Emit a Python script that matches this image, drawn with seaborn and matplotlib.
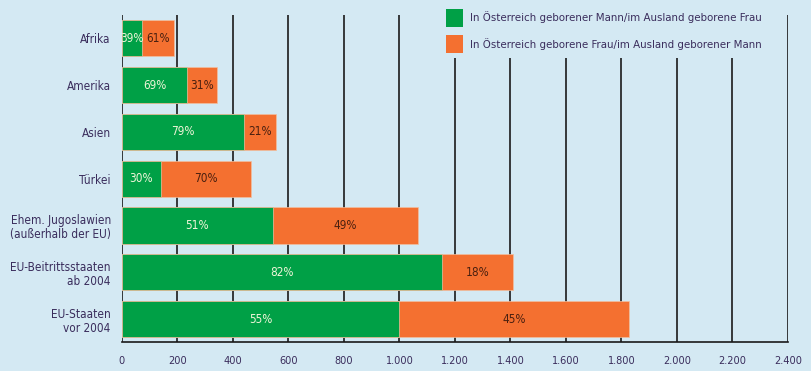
import seaborn as sns
import numpy as np
import pandas as pd
import matplotlib.pyplot as plt
from matplotlib.patches import Patch

# Daten
regionen = ["Afrika", "Amerika", "Asien", "Türkei",
            "Ehem. Jugoslawien\n(außerhalb der EU)",
            "EU-Beitrittsstaaten\nab 2004", "EU-Staaten\nvor 2004"]
mann_at = [73, 236, 438, 140, 544, 1155, 1000]
frau_at = [114, 106, 117, 325, 523, 254, 827]
pct_mann = ["39%", "69%", "79%", "30%", "51%", "82%", "55%"]
pct_frau = ["61%", "31%", "21%", "70%", "49%", "18%", "45%"]
xticks = list(range(0, 2401, 200))
legende = ["In Österreich geborener Mann/im Ausland geborene Frau",
           "In Österreich geborene Frau/im Ausland geborener Mann"]

bg = "#d4e9f3"
gruen = "#00a046"
orange = "#f47030"
txt = "#3a2d5c"

sns.set_style("white")
plt.rcParams['font.family'] = ['DejaVu Sans']
plt.rcParams['font.stretch'] = 'condensed'

df = pd.DataFrame({"region": regionen, "mann": mann_at, "frau": frau_at})
df["gesamt"] = df["mann"] + df["frau"]

fig = plt.figure(figsize=(8.11, 3.71), dpi=100, facecolor=bg)
ax = fig.add_axes([0.1504, 0.0782, 0.8212, 0.8814], facecolor=bg)

sns.barplot(data=df, x="gesamt", y="region", color=orange, saturation=1,
            width=0.77, ax=ax, zorder=3)
sns.barplot(data=df, x="mann", y="region", color=gruen, saturation=1,
            width=0.77, ax=ax, zorder=3)
for p in ax.patches:
    p.set_edgecolor("#f0c0a0")
    p.set_linewidth(0.5)

for i in range(len(df)):
    m = df["mann"][i]
    f = df["frau"][i]
    ax.text(m / 2, i, pct_mann[i], ha="center", va="center",
            color="#eef5d8", fontsize=8.5, zorder=5)
    ax.text(m + f / 2, i, pct_frau[i], ha="center", va="center",
            color="#4a2010", fontsize=8.5, zorder=5)

ax.set_xlim(0, 2400)
ax.set_ylim(6.49, -0.5)
ax.set_xticks(xticks)
ax.set_xticklabels([f"{v:,}".replace(",", ".") for v in xticks],
                   color=txt, fontsize=7.8)
for x in xticks:
    ax.axvline(x, color="#1a1a1a", lw=1.2, zorder=1)

ax.tick_params(axis="x", direction="inout", length=8.5, width=1.2,
               color="#1a1a1a", pad=6)
ax.tick_params(axis="y", length=0, pad=8)
plt.setp(ax.get_yticklabels(), color=txt, fontsize=8.5, linespacing=1.1)
ax.set_xlabel("")
ax.set_ylabel("")
for s in ["top", "right", "left"]:
    ax.spines[s].set_visible(False)
ax.spines["bottom"].set_color("#1a1a1a")
ax.spines["bottom"].set_linewidth(1.2)

handles = [Patch(facecolor=gruen, edgecolor="none"),
           Patch(facecolor=orange, edgecolor="none")]
leg = fig.legend(handles, legende, loc="upper left",
                 bbox_to_anchor=(0.537, 1.005), frameon=True, facecolor=bg,
                 edgecolor="none", framealpha=1, fontsize=8.2,
                 handlelength=1.5, handleheight=2.0, handletextpad=0.6,
                 labelspacing=0.75, borderpad=0.45)
for t in leg.get_texts():
    t.set_color(txt)

fig.savefig("out.png", dpi=100, facecolor=bg)
